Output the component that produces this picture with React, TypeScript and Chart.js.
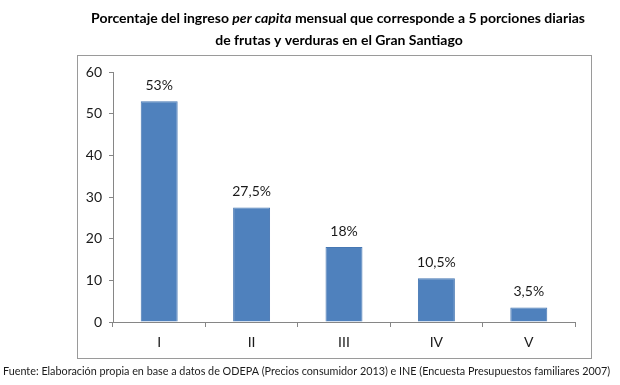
import React, { useEffect, useRef } from "react";
import { Chart, registerables } from "chart.js";

Chart.register(...registerables);

const categories = ["I", "II", "III", "IV", "V"];
const values = [53, 27.5, 18, 10.5, 3.5];
const valueLabels = ["53%", "27,5%", "18%", "10,5%", "3,5%"];
const yTicks = [0, 10, 20, 30, 40, 50, 60];
const titleLine1 = [
  { text: "Porcentaje del ingreso ", italic: false },
  { text: "per capita", italic: true },
  { text: " mensual que corresponde a 5 porciones diarias", italic: false },
];
const titleLine2 = "de frutas y verduras en el Gran Santiago";
const footer =
  "Fuente: Elaboración propia en base a datos de ODEPA (Precios consumidor 2013) e INE (Encuesta Presupuestos familiares 2007)";

const FONT = "Lato, 'Open Sans', sans-serif";
const AXIS_COLOR = "#868686";
const TEXT_COLOR = "#1a1a1a";

const decorPlugin = {
  id: "decor",
  beforeDraw(chart: any) {
    const ctx = chart.ctx;
    ctx.save();
    ctx.fillStyle = "#ffffff";
    ctx.fillRect(0, 0, chart.width, chart.height);
    // outer chart box
    ctx.strokeStyle = "#9a9a9a";
    ctx.lineWidth = 1;
    ctx.strokeRect(77.5, 55.5, 514, 303);
    // title
    ctx.fillStyle = "#000";
    ctx.textBaseline = "middle";
    const fs = 14;
    const fontN = `bold ${fs}px ${FONT}`;
    const fontI = `italic bold ${fs}px ${FONT}`;
    let total = 0;
    for (const s of titleLine1) {
      ctx.font = s.italic ? fontI : fontN;
      total += ctx.measureText(s.text).width;
    }
    let x = 338 - total / 2;
    for (const s of titleLine1) {
      ctx.font = s.italic ? fontI : fontN;
      ctx.textAlign = "left";
      ctx.fillText(s.text, x, 18);
      x += ctx.measureText(s.text).width;
    }
    ctx.font = fontN;
    ctx.textAlign = "center";
    ctx.fillText(titleLine2, 339, 40);
    // footer, sized to span the same width as in the reference
    ctx.font = `12px ${FONT}`;
    const w12 = ctx.measureText(footer).width;
    const ffs = Math.min(12, (12 * 608) / w12);
    ctx.font = `${ffs.toFixed(2)}px ${FONT}`;
    ctx.textAlign = "left";
    ctx.fillStyle = TEXT_COLOR;
    ctx.fillText(footer, 3, 372);
    ctx.restore();
  },
  afterDatasetsDraw(chart: any) {
    const ctx = chart.ctx;
    const meta = chart.getDatasetMeta(0);
    ctx.save();
    ctx.font = `14px ${FONT}`;
    ctx.fillStyle = TEXT_COLOR;
    ctx.textAlign = "center";
    ctx.textBaseline = "middle";
    meta.data.forEach((bar: any, i: number) => {
      ctx.fillText(valueLabels[i], bar.x, bar.y - 16);
    });
    ctx.restore();
  },
};

export default function App() {
  const ref = useRef<HTMLCanvasElement>(null);
  useEffect(() => {
    if (!ref.current) return;
    const chart = new Chart(ref.current, {
      type: "bar",
      data: {
        labels: categories,
        datasets: [
          {
            data: values,
            backgroundColor: "#4f81bd",
            borderColor: "#4677b3",
            borderWidth: 1,
            categoryPercentage: 1,
            barPercentage: 0.4,
          },
        ],
      },
      options: {
        responsive: false,
        animation: false,
        layout: { padding: { left: 0, right: 45, top: 72, bottom: 0 } },
        plugins: {
          legend: { display: false },
          tooltip: { enabled: false },
          title: { display: false },
        },
        scales: {
          x: {
            grid: {
              display: true,
              drawOnChartArea: false,
              drawTicks: true,
              tickLength: 5,
              tickColor: AXIS_COLOR,
              offset: true,
            },
            border: { display: true, color: AXIS_COLOR },
            ticks: {
              color: TEXT_COLOR,
              font: { family: FONT, size: 14 },
              padding: 7,
            },
            afterFit(scale: any) {
              scale.height = 63;
            },
          },
          y: {
            min: 0,
            max: 60,
            afterBuildTicks(scale: any) {
              scale.ticks = yTicks.map((v) => ({ value: v }));
            },
            grid: {
              display: true,
              drawOnChartArea: false,
              drawTicks: true,
              tickLength: 4,
              tickColor: AXIS_COLOR,
            },
            border: { display: true, color: AXIS_COLOR },
            ticks: {
              color: TEXT_COLOR,
              font: { family: FONT, size: 14 },
              padding: 7,
            },
            afterFit(scale: any) {
              scale.width = 113;
            },
          },
        },
      },
      plugins: [decorPlugin],
    });
    return () => chart.destroy();
  }, []);
  return (
    <div style={{ position: "absolute", left: 0, top: 0, width: 620, height: 385 }}>
      <canvas ref={ref} width={620} height={385} style={{ width: 620, height: 385 }} />
    </div>
  );
}
